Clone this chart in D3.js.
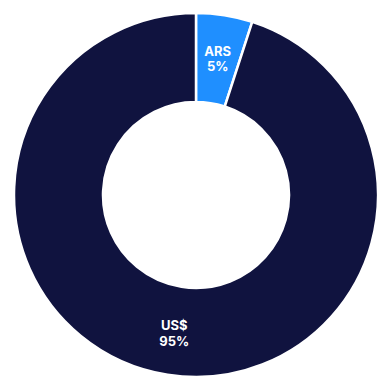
<!DOCTYPE html>
<html>
<head>
<meta charset="utf-8">
<script src="https://cdn.jsdelivr.net/npm/d3@7"></script>
<style>
  body { margin: 0; background: #fff; }
</style>
</head>
<body>
<div id="chart"></div>
<script>
var categories = ["ARS", "US$"];
var shares = [5, 95];
var colors = ["#1f8fff", "#10133f"];

var width = 384, height = 376;
var cx = 196, cy = 195, outerR = 182, innerR = 93;

var data = categories.map(function(c, i) { return { name: c, value: shares[i] }; });

var svg = d3.select("#chart").append("svg")
    .attr("width", width)
    .attr("height", height);

var g = svg.append("g").attr("transform", "translate(" + cx + "," + cy + ")");

var pie = d3.pie().sort(null).value(function(d) { return d.value; });
var arc = d3.arc().innerRadius(innerR).outerRadius(outerR);
var labelArc = d3.arc().innerRadius(139 * 2 - outerR).outerRadius(outerR);

var arcs = pie(data);

g.selectAll("path.slice")
    .data(arcs)
    .enter().append("path")
    .attr("class", "slice")
    .attr("d", arc)
    .attr("fill", function(d, i) { return colors[i]; })
    .attr("stroke", "#fff")
    .attr("stroke-width", 2.5);

var labels = g.selectAll("text.lbl")
    .data(arcs)
    .enter().append("text")
    .attr("class", "lbl")
    .attr("transform", function(d) {
        var c = labelArc.centroid(d);
        return "translate(" + c[0] + "," + c[1] + ")";
    })
    .attr("text-anchor", "middle")
    .style("font-family", "Inter, 'DejaVu Sans', sans-serif")
    .style("font-size", "13px")
    .style("font-weight", "700")
    .attr("fill", "#fff");

labels.append("tspan")
    .attr("x", 0)
    .attr("dy", "-0.15em")
    .text(function(d) { return d.data.name; });
labels.append("tspan")
    .attr("x", 0)
    .attr("dy", "1.2em")
    .text(function(d) { return d.data.value + "%"; });
</script>
</body>
</html>
